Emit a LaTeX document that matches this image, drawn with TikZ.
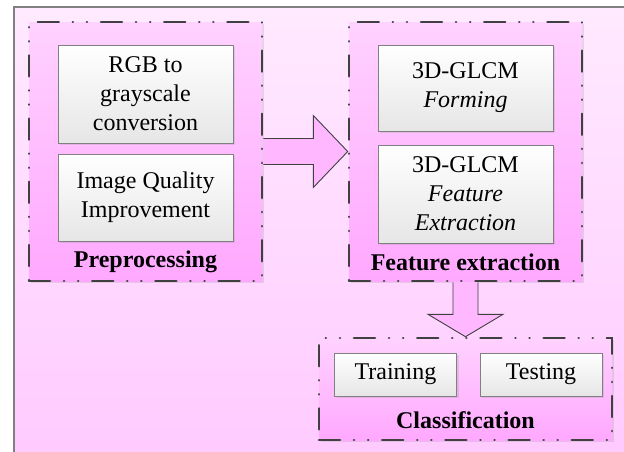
\documentclass[tikz,border=0pt]{standalone}
\usepackage{fontspec}
\setmainfont{Liberation Serif}
\usepackage{xcolor}
\usepackage{tikz}
\usetikzlibrary{calc,shadows,positioning}

\definecolor{bgtop}{HTML}{FFEAFF}
\definecolor{bgbot}{HTML}{FFC8FF}
\definecolor{grptop}{HTML}{FFD2FF}
\definecolor{grpbot}{HTML}{FFA8FF}
\definecolor{arrfill}{HTML}{FFB8FF}
\definecolor{boxbot}{HTML}{E6E6E6}
\definecolor{darkline}{HTML}{404040}
\definecolor{frameline}{HTML}{808080}

\tikzset{
  group/.style={rectangle, inner sep=0pt, draw=darkline, line width=2.6pt, line cap=round,
    dash pattern=on 21pt off 14pt on 0.1pt off 14pt on 0.1pt off 14pt,
    top color=grptop, bottom color=grpbot,
    drop shadow={opacity=0.2, shadow xshift=2pt, shadow yshift=-2pt}},
  stepbox/.style={rectangle, draw=frameline, line width=0.8pt, align=center,
    top color=white, bottom color=boxbot, minimum width=175pt,
    font=\fontsize{24}{29}\selectfont,
    drop shadow={opacity=0.2, shadow xshift=2pt, shadow yshift=-2pt}},
  grouplabel/.style={font=\fontsize{24}{29}\selectfont\bfseries, inner sep=0pt},
  blockarrow/.style={draw=darkline, line width=0.9pt, line join=miter, fill=arrfill}
}

\begin{document}
\begin{tikzpicture}[x=1pt, y=-1pt]
\useasboundingbox (0,0) rectangle (624,451);

% Background frame
\path[draw=frameline, line width=1.5pt, top color=bgtop, bottom color=bgbot] (14,7) rectangle (660,490);

% Groups
\node[group, minimum width=233pt, minimum height=259pt] (pre) at (145.5,151.5) {};
\node[group, minimum width=233pt, minimum height=259pt] (fe) at (465.5,151.5) {};
\node[group, minimum width=293pt, minimum height=102pt] (cls) at (465.5,389) {};

% Preprocessing
\node[stepbox, minimum height=98pt] (rgb) at (145.5,94) {RGB to\\grayscale\\conversion};
\node[stepbox, minimum height=87pt] (iqi) at (145.5,197.5) {Image Quality\\Improvement};
\node[grouplabel] (prelbl) at (145.5,262) {Preprocessing};

% Feature extraction
\node[stepbox, minimum height=86pt] (form) at (465.5,88) {3D-GLCM\\\textit{Forming}};
\node[stepbox, minimum height=98pt] (fext) at (465.5,194) {3D-GLCM\\\textit{Feature}\\\textit{Extraction}};
\node[grouplabel] (felbl) at (465.5,262) {Feature extraction};

% Classification
\node[stepbox, minimum width=122pt, minimum height=43pt] (train) at (395.5,374.5) {Training};
\node[stepbox, minimum width=122pt, minimum height=43pt] (test) at (541,374.5) {Testing};
\node[grouplabel] (clslbl) at (465.5,420) {Classification};

% Block arrows
\draw[blockarrow] ($(pre.east)+(0,-13)$) -- ($(pre.east)+(50,-13)$) -- ($(pre.east)+(50,-36)$)
  -- (fe.west) -- ($(pre.east)+(50,36)$) -- ($(pre.east)+(50,13)$) -- ($(pre.east)+(0,13)$);
\draw[blockarrow] ($(fe.south)+(-12.5,0)$) -- ($(fe.south)+(-12.5,32)$) -- ($(fe.south)+(-37.5,32)$)
  -- (cls.north) -- ($(fe.south)+(37.5,32)$) -- ($(fe.south)+(12.5,32)$) -- ($(fe.south)+(12.5,0)$);

\end{tikzpicture}
\end{document}
